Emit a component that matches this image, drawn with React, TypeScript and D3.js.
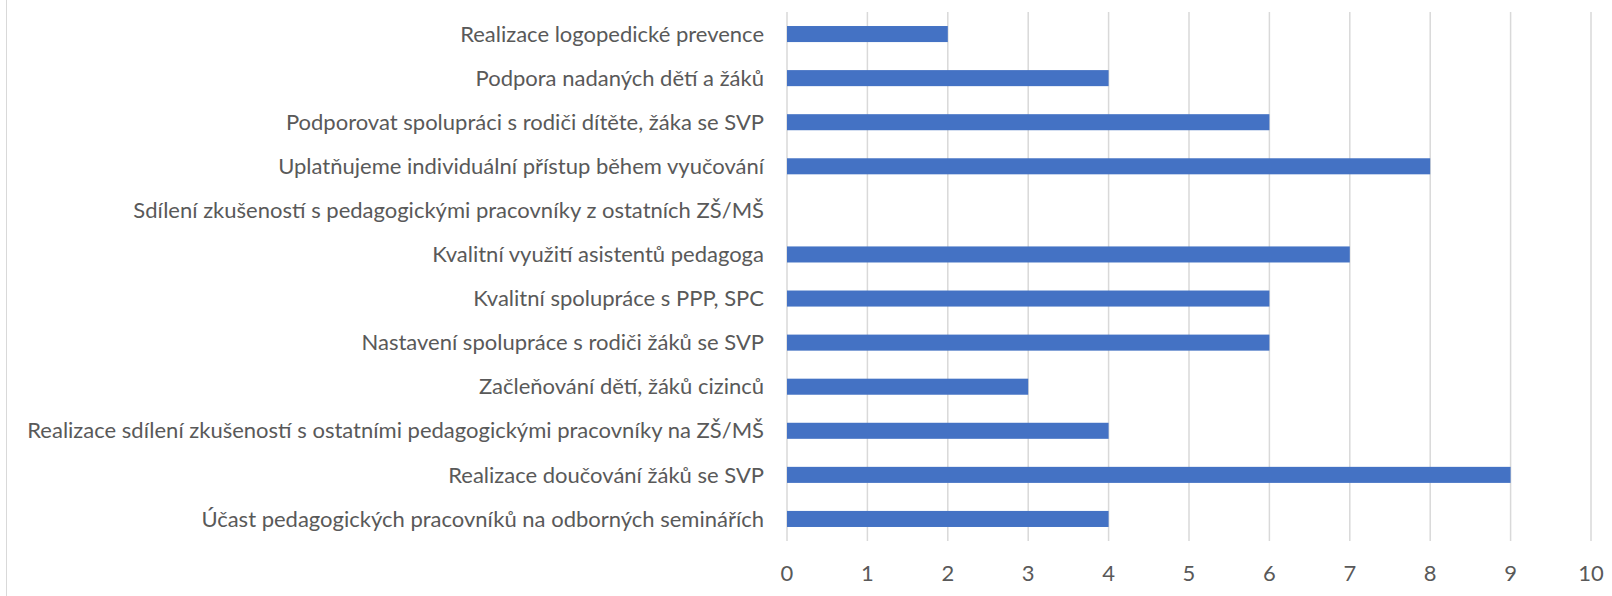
import React, { useEffect, useRef } from "react";
import * as d3 from "d3";

const categories = [
  "Realizace logopedické prevence",
  "Podpora nadaných dětí a žáků",
  "Podporovat spolupráci s rodiči dítěte, žáka se SVP",
  "Uplatňujeme individuální přístup během vyučování",
  "Sdílení zkušeností s pedagogickými pracovníky z ostatních ZŠ/MŠ",
  "Kvalitní využití asistentů pedagoga",
  "Kvalitní spolupráce s PPP, SPC",
  "Nastavení spolupráce s rodiči žáků se SVP",
  "Začleňování dětí, žáků cizinců",
  "Realizace sdílení zkušeností s ostatními pedagogickými pracovníky na ZŠ/MŠ",
  "Realizace doučování žáků se SVP",
  "Účast pedagogických pracovníků na odborných seminářích",
];
const values = [2, 4, 6, 8, 0, 7, 6, 6, 3, 4, 9, 4];
const xTicks = [0, 1, 2, 3, 4, 5, 6, 7, 8, 9, 10];

const App = () => {
  const svgRef = useRef<SVGSVGElement>(null);

  useEffect(() => {
    const width = 1612;
    const height = 596;
    const margin = { left: 787, right: 21, top: 12, bottom: 55 };
    const font = "Lato, 'Open Sans', sans-serif";
    const textColor = "#595959";

    const svg = d3.select(svgRef.current);
    svg.selectAll("*").remove();
    svg.attr("width", width).attr("height", height);

    svg.append("rect").attr("width", width).attr("height", height).attr("fill", "#fff");

    // chart border remnant on the left
    svg
      .append("line")
      .attr("x1", 6.5)
      .attr("x2", 6.5)
      .attr("y1", 0)
      .attr("y2", height)
      .attr("stroke", "#d9d9d9")
      .attr("stroke-width", 1);

    const x = d3
      .scaleLinear()
      .domain([0, 10])
      .range([margin.left, width - margin.right]);
    const y = d3
      .scaleBand()
      .domain(categories)
      .range([margin.top, height - margin.bottom])
      .paddingInner(0.636)
      .paddingOuter(0.318);

    // gridlines
    svg
      .append("g")
      .selectAll("line")
      .data(xTicks)
      .join("line")
      .attr("x1", (d) => x(d))
      .attr("x2", (d) => x(d))
      .attr("y1", margin.top)
      .attr("y2", height - margin.bottom)
      .attr("stroke", "#d9d9d9")
      .attr("stroke-width", 1.5);

    // bars
    svg
      .append("g")
      .selectAll("rect")
      .data(categories)
      .join("rect")
      .attr("x", x(0))
      .attr("y", (d) => y(d)!)
      .attr("width", (d, i) => x(values[i]) - x(0))
      .attr("height", y.bandwidth())
      .attr("fill", "#4472c4");

    // category labels
    svg
      .append("g")
      .selectAll("text")
      .data(categories)
      .join("text")
      .attr("x", margin.left - 23)
      .attr("y", (d) => y(d)! + y.bandwidth() / 2)
      .attr("dy", "0.35em")
      .attr("text-anchor", "end")
      .style("font-family", font)
      .style("font-size", "22px")
      .style("fill", textColor)
      .text((d) => d);

    // x tick labels
    svg
      .append("g")
      .selectAll("text")
      .data(xTicks)
      .join("text")
      .attr("x", (d) => x(d))
      .attr("y", 573)
      .attr("dy", "0.35em")
      .attr("text-anchor", "middle")
      .style("font-family", font)
      .style("font-size", "22px")
      .style("fill", textColor)
      .text((d) => d);
  }, []);

  return (
    <div style={{ position: "absolute", left: 0, top: 0 }}>
      <svg ref={svgRef} style={{ display: "block" }}></svg>
    </div>
  );
};

export default App;
